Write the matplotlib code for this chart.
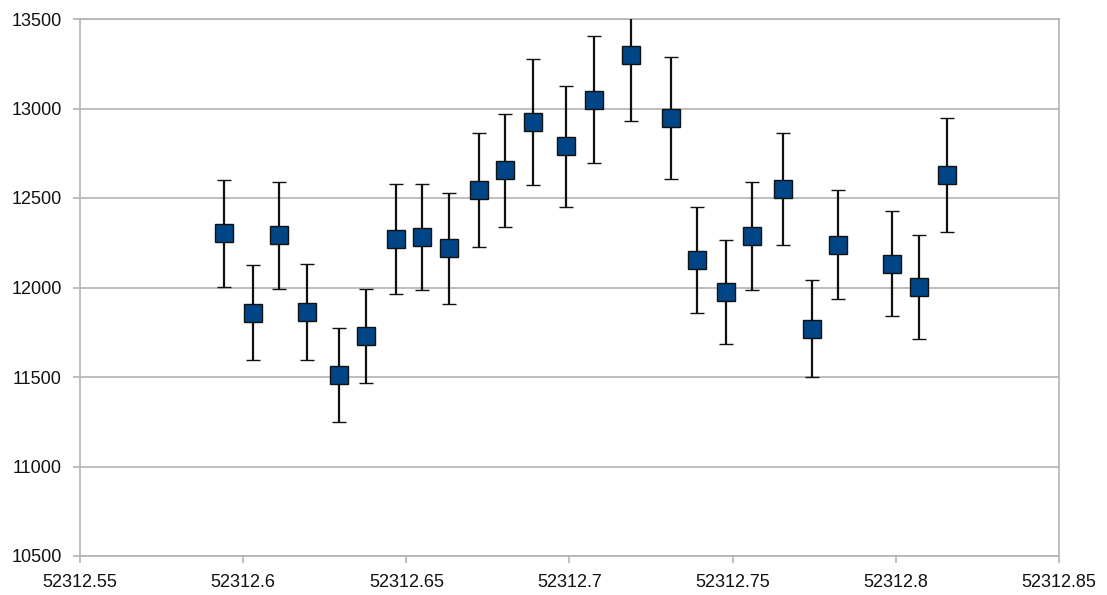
import matplotlib
matplotlib.use("Agg")
import matplotlib.pyplot as plt
from matplotlib.ticker import FixedLocator, FixedFormatter

# observation times (MJD) and measured values with symmetric errors
mjd = [52312.5942, 52312.6029, 52312.6110, 52312.6195, 52312.6295,
       52312.6377, 52312.6468, 52312.6547, 52312.6632, 52312.6724,
       52312.6803, 52312.6887, 52312.6989, 52312.7076, 52312.7187,
       52312.7310, 52312.7392, 52312.7479, 52312.7560, 52312.7655,
       52312.7742, 52312.7822, 52312.7989, 52312.8072, 52312.8157]
values = [12303, 11860, 12292, 11865, 11512,
          11730, 12270, 12282, 12220, 12545,
          12655, 12925, 12790, 13050, 13300,
          12945, 12155, 11975, 12287, 12550,
          11770, 12240, 12133, 12003, 12628]
errors = [300, 267, 300, 268, 263,
          263, 307, 298, 310, 320,
          315, 350, 338, 356, 368,
          340, 295, 290, 302, 314,
          271, 306, 295, 290, 318]

x_ticks = [52312.55, 52312.6, 52312.65, 52312.7, 52312.75, 52312.8, 52312.85]
x_labels = ["52312.55", "52312.6", "52312.65", "52312.7", "52312.75", "52312.8", "52312.85"]
y_ticks = [10500, 11000, 11500, 12000, 12500, 13000, 13500]

plt.rcParams["font.family"] = ["Liberation Sans", "DejaVu Sans"]

fig = plt.figure(figsize=(11.07, 5.95), dpi=100)
ax = fig.add_axes([80 / 1107, 1 - 556 / 595, 979 / 1107, 537 / 595])

ax.errorbar(mjd, values, yerr=errors, fmt="s", color="black",
            ecolor="#111111", elinewidth=1.6, capsize=5, capthick=1.6,
            markersize=12.5, markerfacecolor="#004586",
            markeredgecolor="#111111", markeredgewidth=1.0, zorder=3)

ax.set_xlim(52312.55, 52312.85)
ax.set_ylim(10500, 13500)
ax.xaxis.set_major_locator(FixedLocator(x_ticks))
ax.xaxis.set_major_formatter(FixedFormatter(x_labels))
ax.set_yticks(y_ticks)

ax.grid(axis="y", color="#b3b3b3", linewidth=1.2)
ax.set_axisbelow(True)
for s in ax.spines.values():
    s.set_color("#b3b3b3")
    s.set_linewidth(1.2)

ax.tick_params(axis="both", direction="out", length=5, color="#b3b3b3",
               width=1.2, labelsize=13, labelcolor="#111111")
ax.tick_params(axis="y", pad=8)
ax.tick_params(axis="x", pad=8)

fig.savefig("out.png", dpi=100)
